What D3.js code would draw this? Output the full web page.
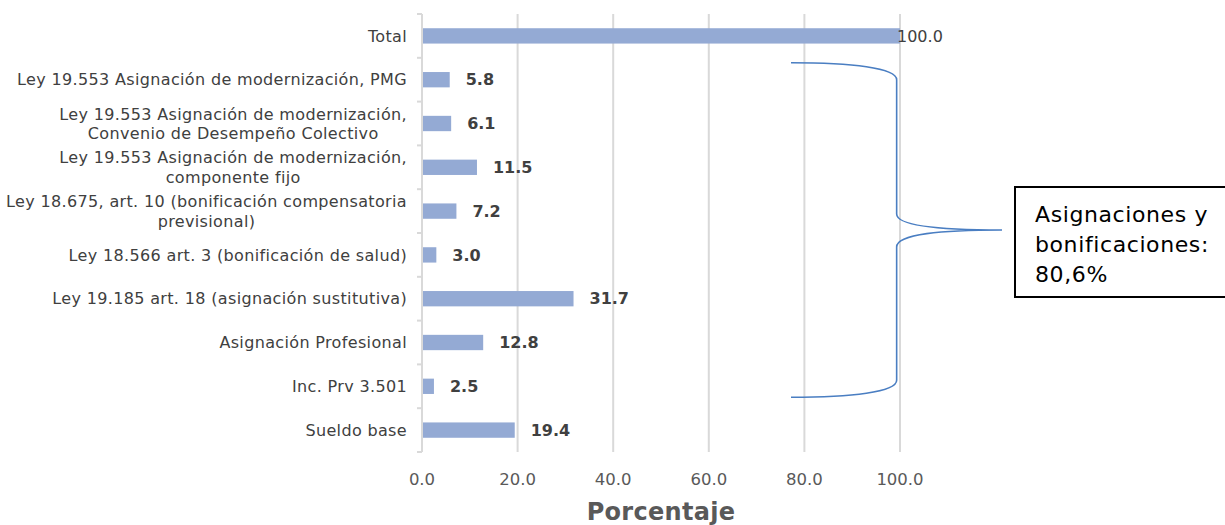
<!DOCTYPE html>
<html>
<head>
<meta charset="utf-8">
<script src="https://cdn.jsdelivr.net/npm/d3@7"></script>
<style>
  html, body { margin: 0; padding: 0; background: #fff; }
  svg { display: block; }
  text { font-family: "DejaVu Sans", "Open Sans", sans-serif; }
</style>
</head>
<body>
<svg id="chart" width="1225" height="525"></svg>
<script>
// ---- Data ----
const categories = [
  ["Total"],
  ["Ley 19.553 Asignación de modernización,  PMG"],
  ["Ley 19.553 Asignación de modernización,", "Convenio de Desempeño Colectivo"],
  ["Ley 19.553 Asignación de modernización,", "componente fijo"],
  ["Ley 18.675, art. 10 (bonificación compensatoria", "previsional)"],
  ["Ley 18.566 art. 3 (bonificación de salud)"],
  ["Ley 19.185 art. 18 (asignación sustitutiva)"],
  ["Asignación Profesional"],
  ["Inc. Prv 3.501"],
  ["Sueldo base"]
];
const values = [100.0, 5.8, 6.1, 11.5, 7.2, 3.0, 31.7, 12.8, 2.5, 19.4];
const xTicks = [0, 20, 40, 60, 80, 100];
const axisTitle = "Porcentaje";
const annotationLines = ["Asignaciones y", "bonificaciones:", "80,6%"];
const bracedFirst = 1, bracedLast = 8;

// ---- Layout ----
const svg = d3.select("#chart");
const x0 = 422, x1 = 900, yTop = 14, yBot = 452;

const x = d3.scaleLinear().domain([0, 100]).range([x0, x1]);
const y = d3.scaleBand()
  .domain(d3.range(categories.length))
  .range([yTop, yBot])
  .paddingInner(0.65)
  .paddingOuter(0.325);
const step = y.step();
const boundary = i => yTop + i * step;

// gridlines
svg.append("g").selectAll("line").data(xTicks.slice(1)).join("line")
  .attr("x1", d => x(d)).attr("x2", d => x(d))
  .attr("y1", yTop).attr("y2", yBot)
  .attr("stroke", "#d9d9d9").attr("stroke-width", 2);

// category axis line and tick marks
svg.append("line")
  .attr("x1", x0).attr("x2", x0).attr("y1", yTop).attr("y2", yBot)
  .attr("stroke", "#d9d9d9").attr("stroke-width", 2);
svg.append("g").selectAll("line").data(d3.range(categories.length + 1)).join("line")
  .attr("x1", x0 - 5).attr("x2", x0)
  .attr("y1", d => boundary(d)).attr("y2", d => boundary(d))
  .attr("stroke", "#d9d9d9").attr("stroke-width", 2);

// bars
svg.append("g").selectAll("rect").data(values).join("rect")
  .attr("x", x(0) + 1)
  .attr("y", (d, i) => y(i))
  .attr("width", d => x(d) - x(0) - 1)
  .attr("height", y.bandwidth())
  .attr("fill", "#94aad4");

// value labels
svg.append("g").selectAll("text").data(values).join("text")
  .attr("x", d => d >= 100 ? x(d) - 3 : x(d) + 16)
  .attr("y", (d, i) => y(i) + y.bandwidth() / 2)
  .attr("dy", "0.36em")
  .attr("font-size", 16)
  .attr("font-weight", d => d >= 100 ? 400 : 700)
  .attr("fill", "#404040")
  .text(d => d3.format(".1f")(d));

// category labels (block right-aligned, lines centered within block)
const labelRight = 407;
const lineH = 19.5;
const lg = svg.append("g");
categories.forEach((lines, i) => {
  const cy = y(i) + y.bandwidth() / 2;
  const t = lg.append("text")
    .attr("font-size", 16)
    .attr("letter-spacing", 0.35)
    .attr("fill", "#404040");
  const tsp = lines.map((s, k) => t.append("tspan")
    .attr("y", cy + (k - (lines.length - 1) / 2) * lineH)
    .attr("dy", "0.36em")
    .text(s));
  const widths = tsp.map(n => n.node().getComputedTextLength());
  const maxW = d3.max(widths);
  if (lines.length === 1) {
    t.attr("text-anchor", "end");
    tsp.forEach(n => n.attr("x", labelRight));
  } else {
    t.attr("text-anchor", "middle");
    tsp.forEach(n => n.attr("x", labelRight - maxW / 2));
  }
});

// x tick labels
svg.append("g").selectAll("text").data(xTicks).join("text")
  .attr("x", d => x(d)).attr("y", 485)
  .attr("text-anchor", "middle")
  .attr("font-size", 16.5)
  .attr("fill", "#595959")
  .text(d => d3.format(".1f")(d));

// axis title
svg.append("text")
  .attr("x", (x0 + x1) / 2).attr("y", 520)
  .attr("text-anchor", "middle")
  .attr("font-size", 24)
  .attr("letter-spacing", 0.3)
  .attr("font-weight", 700)
  .attr("fill", "#595959")
  .text(axisTitle);

// brace
const bTop = boundary(bracedFirst) + 5;
const bBot = boundary(bracedLast + 1) - 11;
const bMid = (bTop + bBot) / 2;
const bx0 = x(77.2), bx1 = x(99.3), tip = 1002;
const p = d3.path();
p.moveTo(bx0, bTop);
p.bezierCurveTo(bx0 + 60, bTop, bx1, bTop + 5, bx1, bTop + 17);
p.lineTo(bx1, bMid - 16);
p.bezierCurveTo(bx1, bMid - 4, bx1 + 45, bMid, tip, bMid);
p.bezierCurveTo(bx1 + 45, bMid, bx1, bMid + 4, bx1, bMid + 17);
p.lineTo(bx1, bBot - 17);
p.bezierCurveTo(bx1, bBot - 5, bx0 + 60, bBot, bx0, bBot);
svg.append("path").attr("d", p.toString())
  .attr("fill", "none").attr("stroke", "#4a7ec2").attr("stroke-width", 1.6);

// annotation box
svg.append("rect")
  .attr("x", 1015).attr("y", 187).attr("width", 220).attr("height", 110)
  .attr("fill", "#fff").attr("stroke", "#000").attr("stroke-width", 2);
svg.append("g").selectAll("text").data(annotationLines).join("text")
  .attr("x", 1035).attr("y", (d, i) => 222 + i * 30)
  .attr("font-size", 22)
  .attr("letter-spacing", 0.6)
  .attr("fill", "#000")
  .text(d => d);
</script>
</body>
</html>
